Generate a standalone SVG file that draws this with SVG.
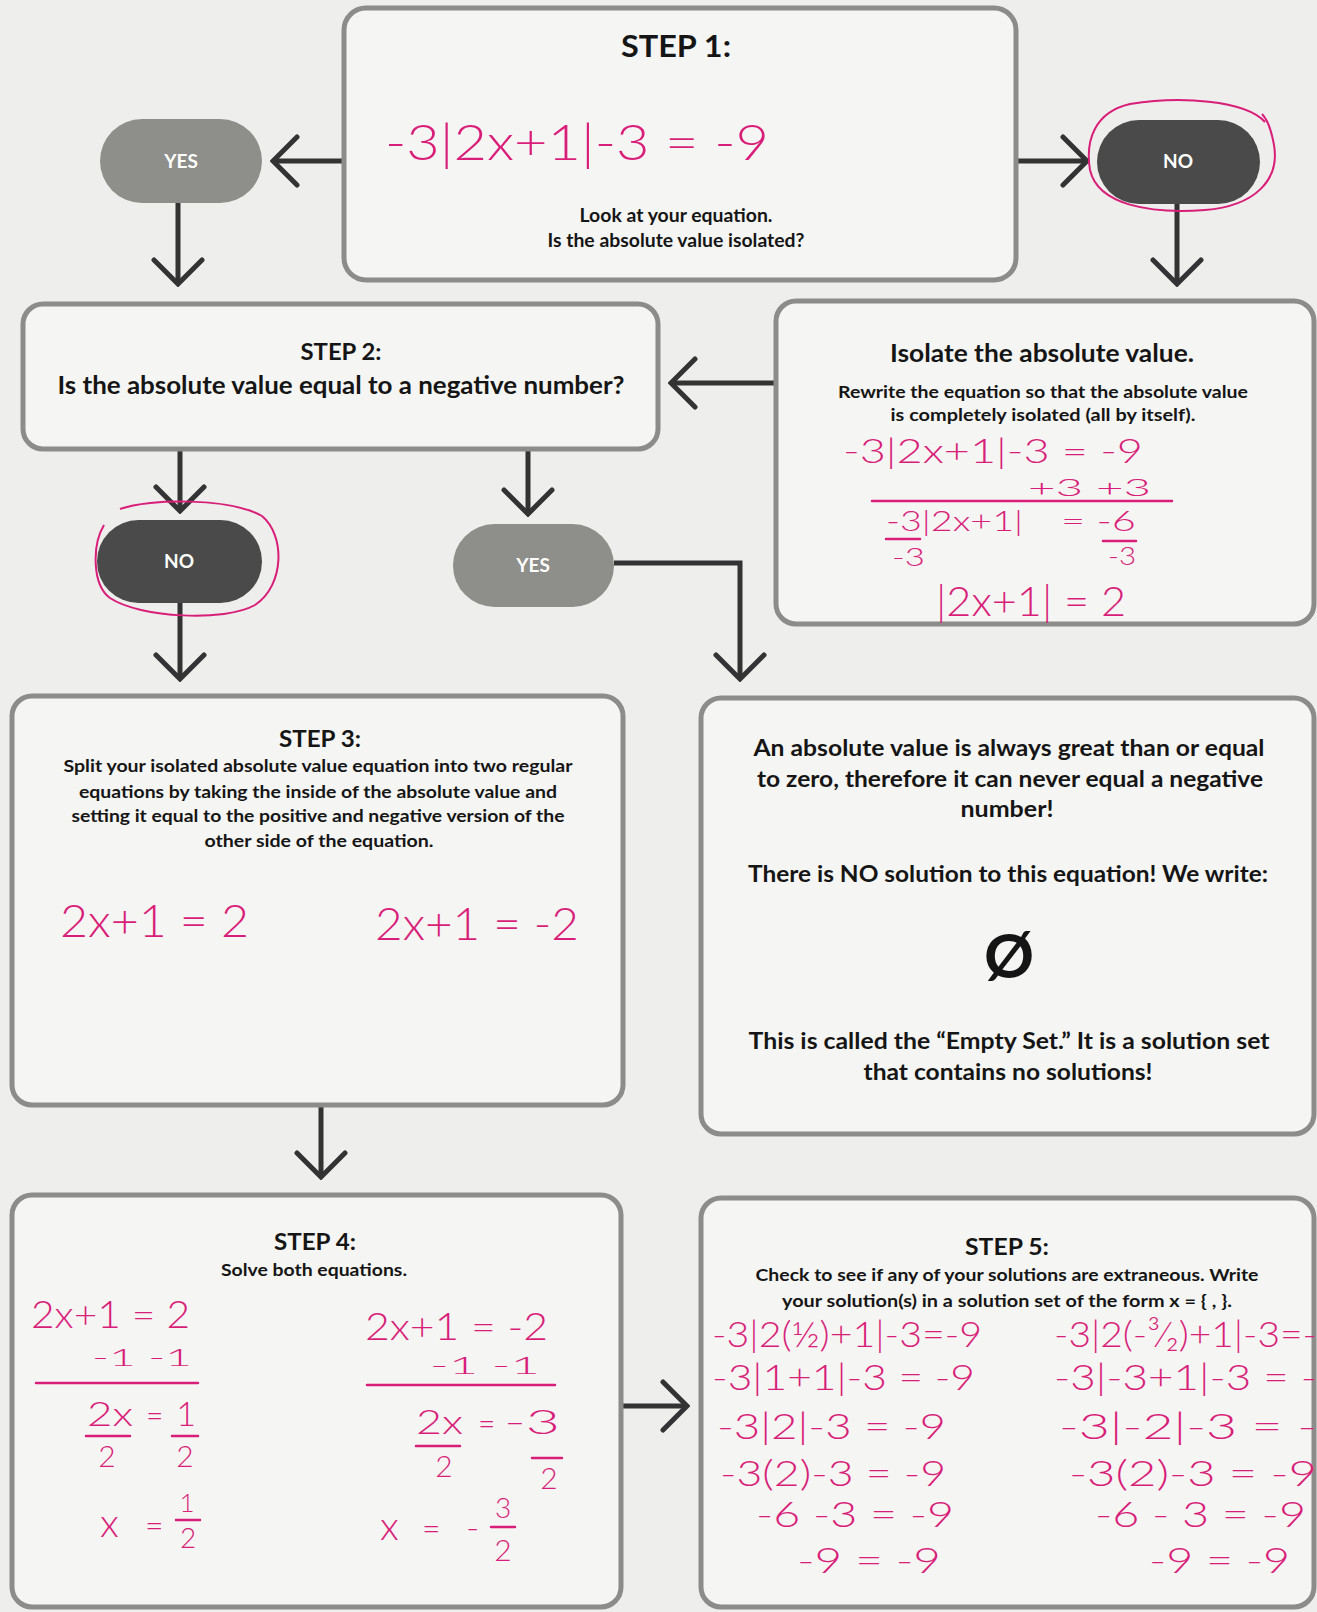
<svg xmlns="http://www.w3.org/2000/svg" width="1317" height="1612" viewBox="0 0 1317 1612">
<defs>
<style>
.box{fill:#f5f5f3;stroke:#8c8c8a;stroke-width:5}
.t{font-family:Lato,"Liberation Sans",sans-serif;font-weight:bold;fill:#151515;text-anchor:middle}
.pl{font-family:Lato,"Liberation Sans",sans-serif;font-weight:bold;fill:#ffffff;text-anchor:middle;font-size:19px}
.light{fill:#8e8e8a}
.dark{fill:#4a4a4a}
.pk{font-family:Lato,"Liberation Sans",sans-serif;font-weight:300;fill:#d81e79}
.pkl{stroke:#d81e79;stroke-width:2.5;fill:none;stroke-linecap:round}
.ring{stroke:#d81e79;stroke-width:2;fill:none}
.c{stroke:#333333;stroke-width:5;fill:none}
</style>
<marker id="arr" viewBox="0 0 30 54" refX="27" refY="27" markerWidth="30" markerHeight="54" markerUnits="userSpaceOnUse" orient="auto">
<path d="M3,3 L27,27 L3,51" fill="none" stroke="#333333" stroke-width="5" stroke-linecap="round" stroke-linejoin="miter"/>
</marker>
</defs>
<rect width="1317" height="1612" fill="#eeeeec"/>

<g id="connectors">
<path class="c" d="M344,161 H273" marker-end="url(#arr)"/>
<path class="c" d="M178,203 V284" marker-end="url(#arr)"/>
<path class="c" d="M1016,161 H1087" marker-end="url(#arr)"/>
<path class="c" d="M1177,204 V284" marker-end="url(#arr)"/>
<path class="c" d="M776,383 H671" marker-end="url(#arr)"/>
<path class="c" d="M180,449 V511" marker-end="url(#arr)"/>
<path class="c" d="M528,449 V514" marker-end="url(#arr)"/>
<path class="c" d="M614,563 H740 V679" marker-end="url(#arr)"/>
<path class="c" d="M180,603 V679" marker-end="url(#arr)"/>
<path class="c" d="M321,1105 V1177" marker-end="url(#arr)"/>
<path class="c" d="M623,1406 H687" marker-end="url(#arr)"/>
</g>

<g id="step1">
<rect class="box" x="344" y="8" width="672" height="272" rx="22"/>
<text class="t" x="676" y="57" font-size="31" textLength="110" lengthAdjust="spacingAndGlyphs">STEP 1:</text>
<text class="pk" x="385" y="160" font-size="50" textLength="384" lengthAdjust="spacingAndGlyphs">-3|2x+1|-3 = -9</text>
<text class="t" x="676" y="222" font-size="18" textLength="193" lengthAdjust="spacingAndGlyphs">Look at your equation.</text>
<text class="t" x="676" y="247" font-size="18" textLength="257" lengthAdjust="spacingAndGlyphs">Is the absolute value isolated?</text>
</g>

<g id="yes1">
<rect class="light" x="100" y="119" width="162" height="84" rx="42"/>
<text class="pl" x="181" y="168">YES</text>
</g>

<g id="no1">
<rect class="dark" x="1097" y="120" width="163" height="84" rx="42"/>
<text class="pl" x="1178" y="168">NO</text>
<path class="ring" d="M1265,122 C1245,100 1180,96 1130,104 C1095,112 1085,140 1090,170 C1098,205 1150,214 1205,210 C1255,206 1280,180 1274,145 C1271,128 1266,118 1262,114"/>
</g>

<g id="isolate">
<rect class="box" x="776" y="301" width="538" height="323" rx="20"/>
<text class="t" x="1042" y="362" font-size="24" textLength="304" lengthAdjust="spacingAndGlyphs">Isolate the absolute value.</text>
<text class="t" x="1043" y="398" font-size="17" textLength="410" lengthAdjust="spacingAndGlyphs">Rewrite the equation so that the absolute value</text>
<text class="t" x="1043" y="421" font-size="17" textLength="305" lengthAdjust="spacingAndGlyphs">is completely isolated (all by itself).</text>
<text class="pk" x="843" y="463" font-size="34" textLength="300" lengthAdjust="spacingAndGlyphs">-3|2x+1|-3 = -9</text>
<text class="pk" x="1028" y="496" font-size="24" textLength="123" lengthAdjust="spacingAndGlyphs">+3   +3</text>
<line class="pkl" x1="872" y1="501" x2="1172" y2="501"/>
<text class="pk" x="886" y="531" font-size="28" textLength="137" lengthAdjust="spacingAndGlyphs">-3|2x+1|</text>
<text class="pk" x="1061" y="531" font-size="28" textLength="75" lengthAdjust="spacingAndGlyphs">= -6</text>
<line class="pkl" x1="886" y1="539" x2="920" y2="539"/>
<line class="pkl" x1="1103" y1="541" x2="1136" y2="541"/>
<text class="pk" x="892" y="566" font-size="26" textLength="33" lengthAdjust="spacingAndGlyphs">-3</text>
<text class="pk" x="1108" y="565" font-size="26" textLength="28" lengthAdjust="spacingAndGlyphs">-3</text>
<text class="pk" x="936" y="616" font-size="42" textLength="190" lengthAdjust="spacingAndGlyphs">|2x+1| = 2</text>
</g>

<g id="step2">
<rect class="box" x="23" y="304" width="635" height="145" rx="20"/>
<text class="t" x="341" y="360" font-size="22" textLength="81" lengthAdjust="spacingAndGlyphs">STEP 2:</text>
<text class="t" x="341" y="394" font-size="25" textLength="567" lengthAdjust="spacingAndGlyphs">Is the absolute value equal to a negative number?</text>
</g>

<g id="no2">
<rect class="dark" x="97" y="520" width="165" height="83" rx="41.5"/>
<text class="pl" x="179" y="568">NO</text>
<path class="ring" d="M120,509 C150,498 230,498 262,516 C285,535 285,585 255,605 C225,622 140,618 110,598 C92,585 92,545 104,525"/>
</g>

<g id="yes2">
<rect class="light" x="453" y="524" width="161" height="83" rx="41.5"/>
<text class="pl" x="533" y="572">YES</text>
</g>

<g id="step3">
<rect class="box" x="12" y="696" width="611" height="409" rx="20"/>
<text class="t" x="320" y="747" font-size="22" textLength="82" lengthAdjust="spacingAndGlyphs">STEP 3:</text>
<text class="t" x="318" y="772" font-size="17" textLength="509" lengthAdjust="spacingAndGlyphs">Split your isolated absolute value equation into two regular</text>
<text class="t" x="318" y="798" font-size="17" textLength="478" lengthAdjust="spacingAndGlyphs">equations by taking the inside of the absolute value and</text>
<text class="t" x="318" y="822" font-size="17" textLength="493" lengthAdjust="spacingAndGlyphs">setting it equal to the positive and negative version of the</text>
<text class="t" x="319" y="847" font-size="17" textLength="229" lengthAdjust="spacingAndGlyphs">other side of the equation.</text>
<text class="pk" x="60" y="937" font-size="46" textLength="189" lengthAdjust="spacingAndGlyphs">2x+1 = 2</text>
<text class="pk" x="375" y="940" font-size="46" textLength="204" lengthAdjust="spacingAndGlyphs">2x+1 = -2</text>
</g>

<g id="emptyset">
<rect class="box" x="701" y="698" width="613" height="436" rx="20"/>
<text class="t" x="1009" y="756" font-size="22" textLength="511" lengthAdjust="spacingAndGlyphs">An absolute value is always great than or equal</text>
<text class="t" x="1010" y="787" font-size="22" textLength="506" lengthAdjust="spacingAndGlyphs">to zero, therefore it can never equal a negative</text>
<text class="t" x="1007" y="817" font-size="22" textLength="93" lengthAdjust="spacingAndGlyphs">number!</text>
<text class="t" x="1008" y="882" font-size="22" textLength="520" lengthAdjust="spacingAndGlyphs">There is NO solution to this equation! We write:</text>
<text class="t" x="1009" y="978" font-size="62">Ø</text>
<text class="t" x="1009" y="1049" font-size="22" textLength="521" lengthAdjust="spacingAndGlyphs">This is called the “Empty Set.” It is a solution set</text>
<text class="t" x="1008" y="1080" font-size="22" textLength="289" lengthAdjust="spacingAndGlyphs">that contains no solutions!</text>
</g>

<g id="step4">
<rect class="box" x="12" y="1195" width="609" height="412" rx="20"/>
<text class="t" x="315" y="1250" font-size="22" textLength="82" lengthAdjust="spacingAndGlyphs">STEP 4:</text>
<text class="t" x="314" y="1276" font-size="17" textLength="186" lengthAdjust="spacingAndGlyphs">Solve both equations.</text>
<text class="pk" x="31" y="1328" font-size="38" textLength="159" lengthAdjust="spacingAndGlyphs">2x+1 = 2</text>
<text class="pk" x="92" y="1366" font-size="24" textLength="100" lengthAdjust="spacingAndGlyphs">-1    -1</text>
<line class="pkl" x1="36" y1="1383" x2="198" y2="1383"/>
<text class="pk" x="87" y="1426" font-size="34" textLength="46" lengthAdjust="spacingAndGlyphs">2x</text>
<text class="pk" x="146" y="1426" font-size="30">=</text>
<text class="pk" x="186" y="1426" font-size="34" text-anchor="middle">1</text>
<line class="pkl" x1="86" y1="1436" x2="130" y2="1436"/>
<line class="pkl" x1="172" y1="1436" x2="198" y2="1436"/>
<text class="pk" x="107" y="1467" font-size="30" text-anchor="middle">2</text>
<text class="pk" x="185" y="1467" font-size="30" text-anchor="middle">2</text>
<text class="pk" x="100" y="1537" font-size="40">x</text>
<text class="pk" x="145" y="1537" font-size="32">=</text>
<text class="pk" x="187" y="1512" font-size="26" text-anchor="middle">1</text>
<line class="pkl" x1="176" y1="1520" x2="200" y2="1520"/>
<text class="pk" x="188" y="1548" font-size="28" text-anchor="middle">2</text>
<text class="pk" x="365" y="1340" font-size="38" textLength="183" lengthAdjust="spacingAndGlyphs">2x+1 = -2</text>
<text class="pk" x="430" y="1374" font-size="24" textLength="110" lengthAdjust="spacingAndGlyphs">-1    -1</text>
<line class="pkl" x1="367" y1="1385" x2="555" y2="1385"/>
<text class="pk" x="416" y="1434" font-size="34" textLength="47" lengthAdjust="spacingAndGlyphs">2x</text>
<text class="pk" x="478" y="1434" font-size="30">=</text>
<text class="pk" x="504" y="1434" font-size="34" textLength="56" lengthAdjust="spacingAndGlyphs">-3</text>
<line class="pkl" x1="416" y1="1446" x2="460" y2="1446"/>
<line class="pkl" x1="532" y1="1458" x2="562" y2="1458"/>
<text class="pk" x="444" y="1477" font-size="30" text-anchor="middle">2</text>
<text class="pk" x="549" y="1489" font-size="30" text-anchor="middle">2</text>
<text class="pk" x="380" y="1540" font-size="40">x</text>
<text class="pk" x="422" y="1540" font-size="32">=</text>
<text class="pk" x="466" y="1540" font-size="36">-</text>
<text class="pk" x="503" y="1518" font-size="28" text-anchor="middle">3</text>
<line class="pkl" x1="491" y1="1527" x2="515" y2="1527"/>
<text class="pk" x="503" y="1561" font-size="30" text-anchor="middle">2</text>
</g>

<g id="step5">
<rect class="box" x="701" y="1198" width="613" height="409" rx="20"/>
<text class="t" x="1007" y="1255" font-size="22" textLength="84" lengthAdjust="spacingAndGlyphs">STEP 5:</text>
<text class="t" x="1007" y="1281" font-size="17" textLength="503" lengthAdjust="spacingAndGlyphs">Check to see if any of your solutions are extraneous. Write</text>
<text class="t" x="1007" y="1307" font-size="17" textLength="450" lengthAdjust="spacingAndGlyphs">your solution(s) in a solution set of the form x = { , }.</text>
<text class="pk" x="712" y="1347" font-size="36" textLength="270" lengthAdjust="spacingAndGlyphs">-3|2(½)+1|-3=-9</text>
<text class="pk" x="712" y="1390" font-size="36" textLength="263" lengthAdjust="spacingAndGlyphs">-3|1+1|-3 = -9</text>
<text class="pk" x="717" y="1439" font-size="36" textLength="229" lengthAdjust="spacingAndGlyphs">-3|2|-3 = -9</text>
<text class="pk" x="720" y="1486" font-size="36" textLength="226" lengthAdjust="spacingAndGlyphs">-3(2)-3 = -9</text>
<text class="pk" x="756" y="1527" font-size="36" textLength="198" lengthAdjust="spacingAndGlyphs">-6 -3 = -9</text>
<text class="pk" x="797" y="1573" font-size="36" textLength="144" lengthAdjust="spacingAndGlyphs">-9 = -9</text>
<text class="pk" x="1054" y="1347" font-size="36" textLength="263" lengthAdjust="spacingAndGlyphs">-3|2(-³⁄₂)+1|-3=-</text>
<text class="pk" x="1054" y="1390" font-size="36" textLength="263" lengthAdjust="spacingAndGlyphs">-3|-3+1|-3 = -</text>
<text class="pk" x="1059" y="1439" font-size="36" textLength="258" lengthAdjust="spacingAndGlyphs">-3|-2|-3 = -</text>
<text class="pk" x="1069" y="1486" font-size="36" textLength="248" lengthAdjust="spacingAndGlyphs">-3(2)-3 = -9</text>
<text class="pk" x="1095" y="1527" font-size="36" textLength="211" lengthAdjust="spacingAndGlyphs">-6 - 3 = -9</text>
<text class="pk" x="1149" y="1573" font-size="36" textLength="141" lengthAdjust="spacingAndGlyphs">-9 = -9</text>
</g>
</svg>
